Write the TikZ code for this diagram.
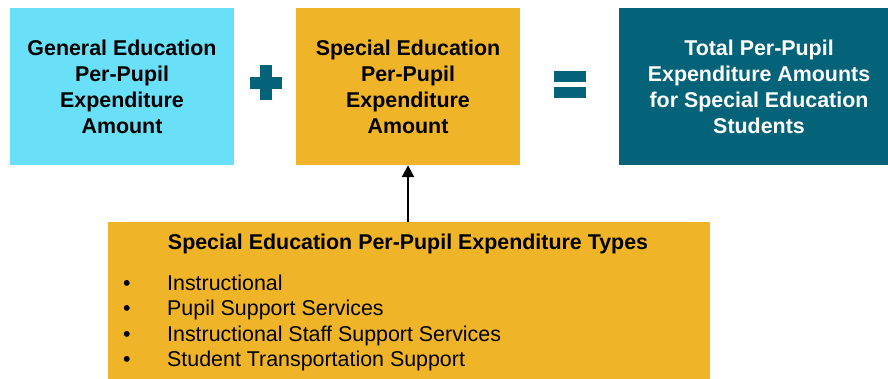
\documentclass[tikz,border=0pt]{standalone}
\usepackage{fontspec}
\setmainfont{Liberation Sans}
\usetikzlibrary{arrows.meta}

\definecolor{eduCyan}{RGB}{105,224,247}
\definecolor{eduGold}{RGB}{240,180,41}
\definecolor{eduTeal}{RGB}{4,99,120}

\begin{document}
\begin{tikzpicture}[x=1pt,y=-1pt,
	box/.style={rectangle, inner sep=0pt, minimum height=157pt, align=center,
		font=\fontsize{21.4}{26}\selectfont\bfseries},
	item/.style={anchor=base west, inner sep=0pt, font=\fontsize{21.4}{26}\selectfont}]
	\useasboundingbox (0,0) rectangle (888,379);
	\node[box, fill=eduCyan, minimum width=224pt] (gened) at (122,86.5)
		{General Education\\Per-Pupil\\Expenditure\\Amount};
	\node[box, fill=eduGold, minimum width=224pt] (sped) at (408,86.5)
		{Special Education\\Per-Pupil\\Expenditure\\Amount};
	\node[box, fill=eduTeal, text=white, minimum width=280pt] (total) at (759,86.5)
		{Total Per-Pupil\\Expenditure Amounts\\for Special Education\\Students};
%	plus and equals signs
	\fill[eduTeal] (250,77) rectangle (282,89);
	\fill[eduTeal] (260,65) rectangle (272,100);
	\fill[eduTeal] (554,71) rectangle (586,82);
	\fill[eduTeal] (554,87) rectangle (586,98);
%	expenditure types
	\node[rectangle, fill=eduGold, inner sep=0pt, minimum width=602pt, minimum height=160pt,
		anchor=north west] (types) at (108,222) {};
	\node[anchor=base, inner sep=0pt, font=\fontsize{21.4}{26}\selectfont\bfseries] (title) at (408,250)
		{Special Education Per-Pupil Expenditure Types};
	\foreach \txt [count=\i] in {Instructional, Pupil Support Services,
		Instructional Staff Support Services, Student Transportation Support} {
		\node[item] (bul\i) at (123,264.5+25.5*\i) {\textbullet};
		\node[item] (itm\i) at (167,264.5+25.5*\i) {\txt};
	}
	\draw [-{Triangle[width=12pt,length=12pt]}, line width=2.2pt] (sped.south |- types.north) -- (sped.south);
\end{tikzpicture}
\end{document}
